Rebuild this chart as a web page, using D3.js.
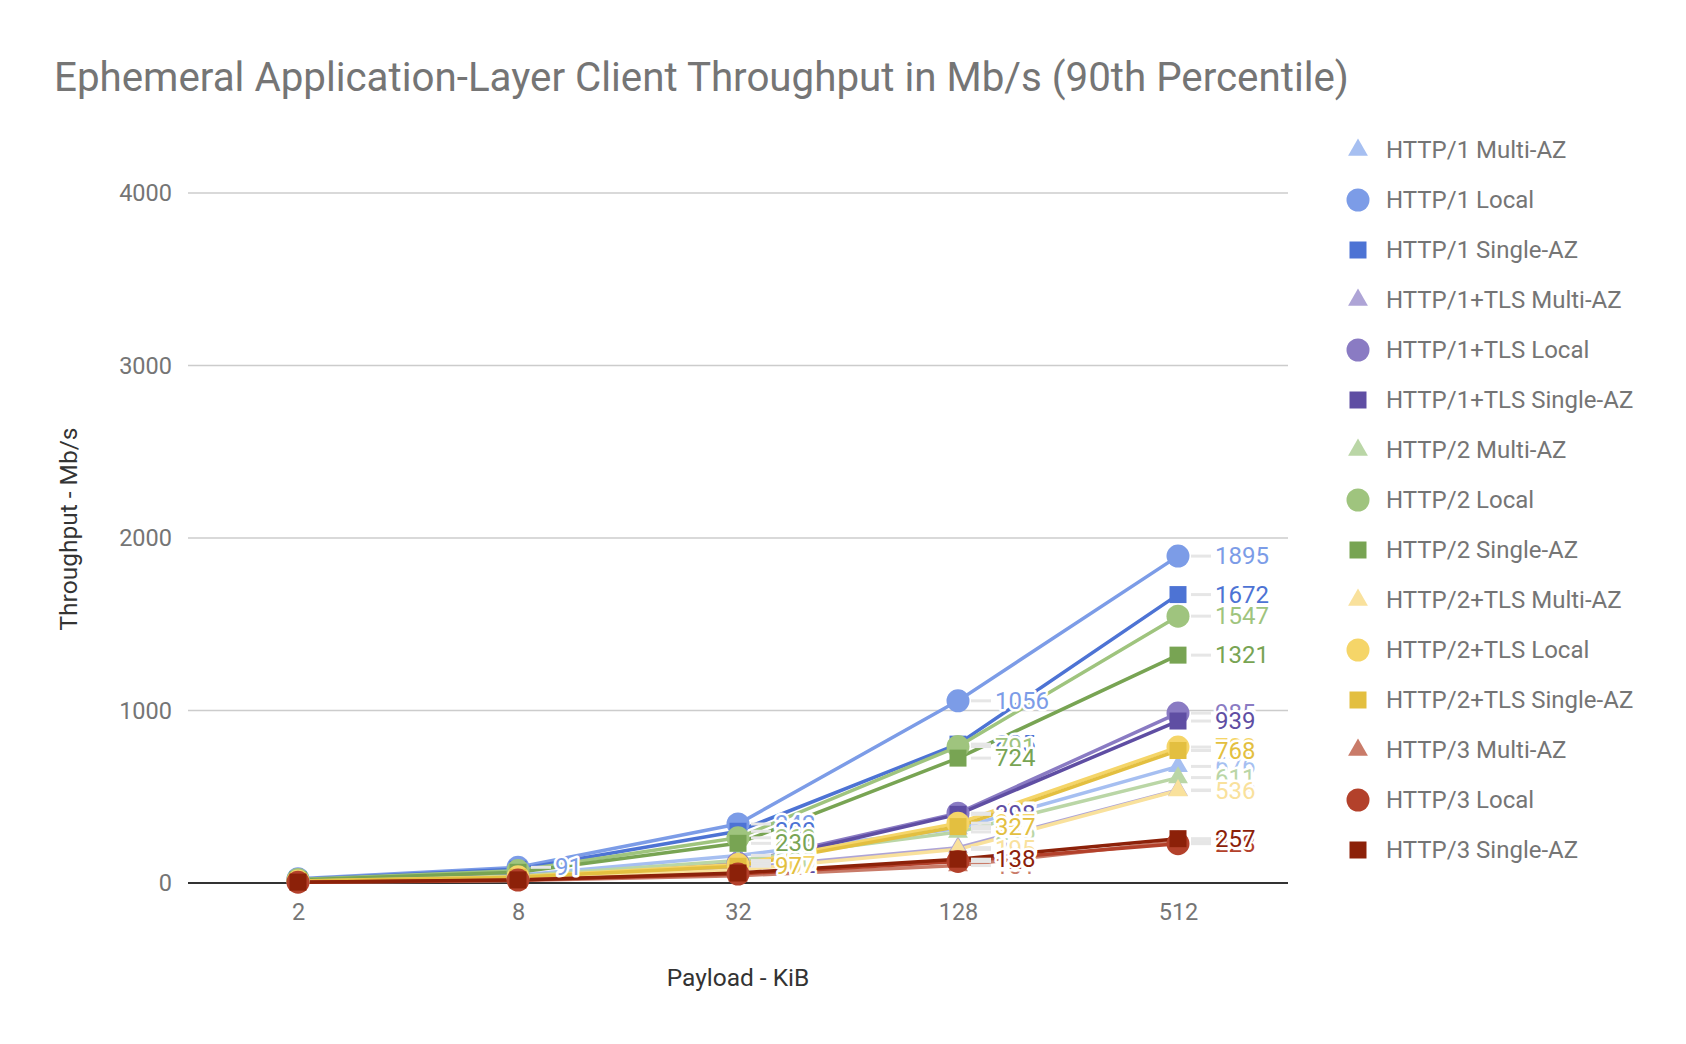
<!DOCTYPE html>
<html>
<head>
<meta charset="utf-8">
<script src="https://cdn.jsdelivr.net/npm/d3@7"></script>
<style>
  html, body { margin: 0; padding: 0; background: #fff; }
  svg { display: block; font-family: Roboto, "Noto Sans", sans-serif; }
</style>
</head>
<body>
<svg id="chart" width="1686" height="1044"></svg>
<script>
// ---- data ----
const categories = ["2", "8", "32", "128", "512"];
const seriesNames = [
  "HTTP/1 Multi-AZ", "HTTP/1 Local", "HTTP/1 Single-AZ",
  "HTTP/1+TLS Multi-AZ", "HTTP/1+TLS Local", "HTTP/1+TLS Single-AZ",
  "HTTP/2 Multi-AZ", "HTTP/2 Local", "HTTP/2 Single-AZ",
  "HTTP/2+TLS Multi-AZ", "HTTP/2+TLS Local", "HTTP/2+TLS Single-AZ",
  "HTTP/3 Multi-AZ", "HTTP/3 Local", "HTTP/3 Single-AZ"
];
const http1Multi     = [9, 45, 160, 316, 676];
const http1Local     = [24, 91, 342, 1056, 1895];
const http1Single    = [21, 80, 300, 805, 1672];
const http1tlsMulti  = [6, 28, 85, 205, 539];
const http1tlsLocal  = [13, 42, 115, 405, 985];
const http1tlsSingle = [12, 39, 102, 398, 939];
const http2Multi     = [8, 40, 130, 296, 611];
const http2Local     = [20, 72, 262, 791, 1547];
const http2Single    = [17, 62, 230, 724, 1321];
const http2tlsMulti  = [6, 25, 75, 195, 536];
const http2tlsLocal  = [11, 36, 107, 347, 788];
const http2tlsSingle = [10, 33, 97, 327, 768];
const http3Multi     = [4, 14, 42, 101, 240];
const http3Local     = [5, 17, 52, 125, 228];
const http3Single    = [5, 18, 58, 138, 257];
const seriesValues = [
  http1Multi, http1Local, http1Single,
  http1tlsMulti, http1tlsLocal, http1tlsSingle,
  http2Multi, http2Local, http2Single,
  http2tlsMulti, http2tlsLocal, http2tlsSingle,
  http3Multi, http3Local, http3Single
];
const yTicks = [0, 1000, 2000, 3000, 4000];
const titleText = "Ephemeral Application-Layer Client Throughput in Mb/s (90th Percentile)";
const xTitle = "Payload - KiB";
const yTitle = "Throughput - Mb/s";

// ---- style ----
const colors = [
  "#a6bff1", "#7c9ce7", "#4d73d4",
  "#aea4d6", "#8a7bc3", "#5f4ea3",
  "#bad6a6", "#9fc47e", "#78a453",
  "#f9e19c", "#f5d568", "#e3bf40",
  "#c97b69", "#b3412b", "#8c2109"
];
const shapes = ["triangle", "circle", "square"];
const LABEL_MIN = 90;

const svg = d3.select("#chart");
const plot = { left: 188, right: 1288, top: 193, bottom: 883 };

const x = d3.scalePoint().domain(categories).range([plot.left, plot.right]).padding(0.5);
const y = d3.scaleLinear().domain([0, 4000]).range([plot.bottom, plot.top]);

// title
svg.append("text")
  .attr("x", 54).attr("y", 91)
  .attr("font-size", 40.3)
  .attr("fill", "#757575")
  .text(titleText);

// gridlines
svg.append("g").selectAll("line").data(yTicks.filter(d => d > 0)).join("line")
  .attr("x1", plot.left).attr("x2", plot.right)
  .attr("y1", d => y(d)).attr("y2", d => y(d))
  .attr("stroke", "#cccccc").attr("stroke-width", 1.5);

// y axis labels
const yAxis = d3.axisLeft(y).tickValues(yTicks).tickSize(0).tickPadding(16).tickFormat(d3.format("d"));
const yg = svg.append("g").attr("transform", `translate(${plot.left},0)`).call(yAxis);
yg.select(".domain").remove();
yg.selectAll("text").attr("font-size", 23.5).attr("fill", "#757575").attr("font-family", "Roboto");

// x axis labels
const xAxis = d3.axisBottom(x).tickSize(0).tickPadding(20);
const xg = svg.append("g").attr("transform", `translate(0,${plot.bottom})`).call(xAxis);
xg.select(".domain").remove();
xg.selectAll("text").attr("font-size", 23.5).attr("fill", "#757575").attr("font-family", "Roboto");

// baseline
svg.append("line")
  .attr("x1", plot.left).attr("x2", plot.right)
  .attr("y1", y(0)).attr("y2", y(0))
  .attr("stroke", "#333333").attr("stroke-width", 2);

// axis titles
svg.append("text")
  .attr("x", x("32")).attr("y", 977)
  .attr("text-anchor", "middle").attr("dominant-baseline", "central")
  .attr("font-size", 24.5).attr("fill", "#333")
  .text(xTitle);
svg.append("text")
  .attr("transform", "translate(68,529) rotate(-90)")
  .attr("text-anchor", "middle").attr("dominant-baseline", "central")
  .attr("font-size", 24.5).attr("fill", "#333")
  .text(yTitle);

const series = seriesNames.map((name, i) => ({
  name, color: colors[i], shape: shapes[i % 3],
  points: categories.map((c, j) => ({ c, v: seriesValues[i][j] }))
}));

function shapePath(shape) {
  if (shape === "circle") return d3.symbol().type(d3.symbolCircle).size(Math.PI * 11.5 * 11.5)();
  if (shape === "square") return d3.symbol().type(d3.symbolSquare).size(17 * 17)();
  return d3.symbol().type(d3.symbolTriangle).size(170)();
}

// lines
const line = d3.line().x(d => x(d.c)).y(d => y(d.v));
svg.append("g").selectAll("path").data(series).join("path")
  .attr("d", d => line(d.points))
  .attr("fill", "none")
  .attr("stroke", d => d.color)
  .attr("stroke-width", 3.5)
  .attr("stroke-linejoin", "round");

// markers
const mg = svg.append("g");
series.forEach(s => {
  mg.append("g").selectAll("path").data(s.points).join("path")
    .attr("d", shapePath(s.shape))
    .attr("transform", d => `translate(${x(d.c)},${y(d.v)})`)
    .attr("fill", s.color);
});

// labels
const lg = svg.append("g");
series.forEach(s => {
  const pts = s.points.filter(d => d.v >= LABEL_MIN);
  lg.append("g").selectAll("line").data(pts).join("line")
    .attr("x1", d => x(d.c) + 13).attr("x2", d => x(d.c) + 33)
    .attr("y1", d => y(d.v)).attr("y2", d => y(d.v))
    .attr("stroke", "#e6e6e6").attr("stroke-width", 3);
  lg.append("g").selectAll("text").data(pts).join("text")
    .attr("x", d => x(d.c) + 37).attr("y", d => y(d.v))
    .attr("dominant-baseline", "central")
    .attr("font-size", 24)
    .attr("fill", s.color)
    .attr("stroke", "#fff").attr("stroke-width", 5).attr("paint-order", "stroke")
    .attr("stroke-linejoin", "round")
    .text(d => d.v);
});

// legend
const leg = svg.append("g");
series.forEach((s, i) => {
  const cy = 150 + i * 50;
  leg.append("path").attr("d", shapePath(s.shape))
    .attr("transform", `translate(1358,${cy})`)
    .attr("fill", s.color);
  leg.append("text").attr("x", 1386).attr("y", cy)
    .attr("dominant-baseline", "central")
    .attr("font-size", 24).attr("fill", "#757575")
    .text(s.name);
});
</script>
</body>
</html>
